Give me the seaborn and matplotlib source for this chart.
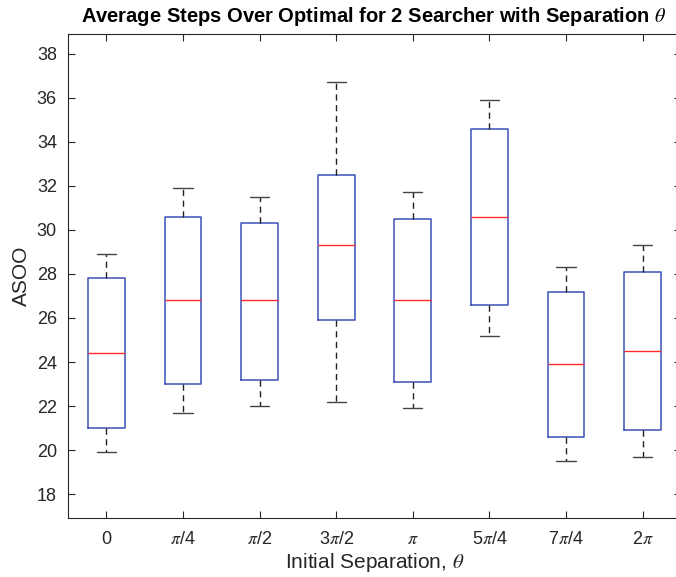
import numpy as np
import pandas as pd
import matplotlib
matplotlib.use("Agg")
import matplotlib.pyplot as plt
import seaborn as sns

# ---- data (five-number summaries) ----
categories = ["0", "pi/4", "pi/2", "3pi/2", "pi", "5pi/4", "7pi/4", "2pi"]
tick_labels = ["0", r"$\pi$/4", r"$\pi$/2", r"3$\pi$/2", r"$\pi$", r"5$\pi$/4", r"7$\pi$/4", r"2$\pi$"]
low_whisker = [19.9, 21.7, 22.0, 22.2, 21.9, 25.2, 19.5, 19.7]
q1_values   = [21.0, 23.0, 23.2, 25.9, 23.1, 26.6, 20.6, 20.9]
medians     = [24.4, 26.8, 26.8, 29.3, 26.8, 30.6, 23.9, 24.5]
q3_values   = [27.8, 30.6, 30.3, 32.5, 30.5, 34.6, 27.2, 28.1]
high_whisker = [28.9, 31.9, 31.5, 36.7, 31.7, 35.9, 28.3, 29.3]

rows = []
for c, lo, a, m, b, hi in zip(categories, low_whisker, q1_values, medians, q3_values, high_whisker):
    for v in (lo, a, m, b, hi):
        rows.append({"theta": c, "ASOO": v})
df = pd.DataFrame(rows)

sns.set_theme(style="white")
plt.rcParams["font.family"] = ["Liberation Sans", "DejaVu Sans"]
plt.rcParams["mathtext.fontset"] = "stix"

fig = plt.figure(figsize=(6.76, 5.77), dpi=100)
ax = fig.add_axes([68 / 676, (577 - 518.3) / 577, 613 / 676, 484.3 / 577])

box_col = "#3d4fb8"
sns.boxplot(
    data=df, x="theta", y="ASOO", order=categories, ax=ax,
    fill=False, color=box_col, width=0.48, whis=(0, 100), showfliers=False,
    linewidth=1.0,
    boxprops=dict(color=box_col, linewidth=1.1),
    medianprops=dict(color="#ff2a2a", linewidth=1.0),
    whiskerprops=dict(color="#222222", linestyle=(0, (4.5, 3.2)), linewidth=1.0),
    capprops=dict(color="#444444", linestyle="-", linewidth=1.0),
)

# MATLAB-style narrower caps
for cont in ax.containers:
    if hasattr(cont, "caps"):
        for cap in cont.caps:
            xd = np.asarray(cap.get_xdata(), dtype=float)
            c = xd.mean()
            cap.set_xdata([c - 0.125, c + 0.125])

ax.set_xlim(-0.5, 7.5)
ax.set_ylim(16.9, 38.9)
ax.set_yticks(np.arange(18, 39, 2))
ax.set_xticks(range(len(categories)))
ax.set_xticklabels(tick_labels)

for s in ax.spines.values():
    s.set_visible(True)
    s.set_color("#262626")
    s.set_linewidth(0.8)

ax.tick_params(axis="both", which="both", direction="in", length=5, width=0.8,
               top=True, right=True, bottom=True, left=True,
               labelsize=13, colors="#262626", pad=8)
ax.tick_params(axis="x", pad=9)

ax.set_xlabel(r"Initial Separation, $\theta$", fontsize=15, color="#262626", labelpad=2)
ax.set_ylabel("ASOO", fontsize=15, color="#262626", labelpad=4)
fig.text(0.5535, 0.962, r"Average Steps Over Optimal for 2 Searcher with Separation $\theta$",
         fontsize=14.5, fontweight="bold", color="black", ha="center", va="baseline")

fig.savefig("out.png", dpi=100)
